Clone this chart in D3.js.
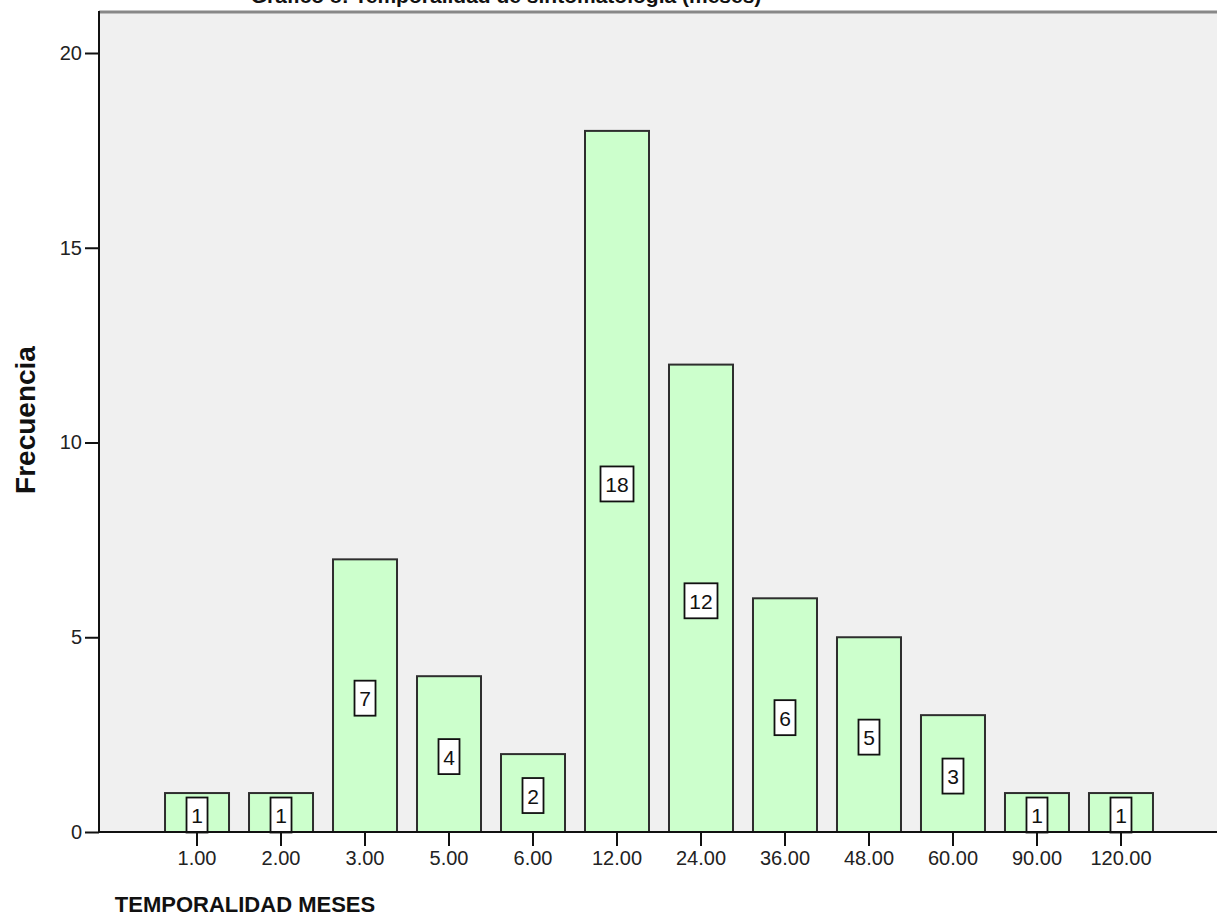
<!DOCTYPE html>
<html>
<head>
<meta charset="utf-8">
<script src="https://cdn.jsdelivr.net/npm/d3@7"></script>
<style>
  html, body { margin: 0; padding: 0; background: #ffffff; }
  svg { display: block; font-family: "Liberation Sans", Arial, sans-serif; }
</style>
</head>
<body>
<svg id="chart" width="1217" height="922"></svg>
<script>
// Frequency of symptom duration (months)
const categories = ["1.00", "2.00", "3.00", "5.00", "6.00", "12.00", "24.00", "36.00", "48.00", "60.00", "90.00", "120.00"];
const frequencies = [1, 1, 7, 4, 2, 18, 12, 6, 5, 3, 1, 1];
const yTicks = [0, 5, 10, 15, 20];

const chartTitle = "Gráfico 8: Temporalidad de sintomatología (meses)";
const xTitle = "TEMPORALIDAD MESES";
const yTitle = "Frecuencia";

const svg = d3.select("#chart");
const W = 1217, H = 922;
const plot = { left: 99, right: 1219, top: 12, bottom: 832 };

const x = d3.scaleBand()
  .domain(categories)
  .range([plot.left, plot.right])
  .paddingInner(20 / 84)
  .paddingOuter(0.786);

const y = d3.scaleLinear()
  .domain([0, 20])
  .range([plot.bottom, 53]);

// plot background
svg.append("rect")
  .attr("x", plot.left).attr("y", plot.top)
  .attr("width", plot.right - plot.left)
  .attr("height", plot.bottom - plot.top)
  .attr("fill", "#f0f0f0");

// top frame line
svg.append("line")
  .attr("x1", plot.left).attr("x2", W)
  .attr("y1", plot.top).attr("y2", plot.top)
  .attr("stroke", "#888888").attr("stroke-width", 3);

// bars
svg.append("g").selectAll("rect")
  .data(frequencies)
  .join("rect")
  .attr("x", (d, i) => x(categories[i]))
  .attr("y", d => y(d))
  .attr("width", x.bandwidth())
  .attr("height", d => y(0) - y(d))
  .attr("fill", "#ccffcc")
  .attr("stroke", "#2e2e2e")
  .attr("stroke-width", 2);

// value labels in boxes at mid-height of each bar
const lbl = svg.append("g").selectAll("g")
  .data(frequencies)
  .join("g")
  .attr("transform", (d, i) => `translate(${x(categories[i]) + x.bandwidth() / 2},${y(d / 2) + 3})`);

lbl.append("rect")
  .attr("x", d => -(String(d).length > 1 ? 16.5 : 10.5))
  .attr("y", -18)
  .attr("width", d => String(d).length > 1 ? 33 : 21)
  .attr("height", 35)
  .attr("fill", "#ffffff")
  .attr("stroke", "#111111")
  .attr("stroke-width", 1.8);

lbl.append("text")
  .attr("text-anchor", "middle")
  .attr("dy", "0.36em")
  .attr("font-size", 21)
  .attr("fill", "#111111")
  .text(d => d);

// axes
const yAxis = d3.axisLeft(y).tickValues(yTicks).tickSize(14).tickPadding(3).tickFormat(d3.format("d"));
const gy = svg.append("g").attr("transform", `translate(${plot.left},0)`).call(yAxis);
gy.select(".domain").remove();
gy.selectAll(".tick line").attr("stroke", "#111").attr("stroke-width", 2);
gy.selectAll(".tick text").attr("font-size", 20).attr("fill", "#222")
  .attr("font-family", "Liberation Sans, Arial, sans-serif");

const xAxis = d3.axisBottom(x).tickSize(14).tickPadding(5);
const gx = svg.append("g").attr("transform", `translate(0,${plot.bottom})`).call(xAxis);
gx.select(".domain").remove();
gx.selectAll(".tick line").attr("stroke", "#111").attr("stroke-width", 2);
gx.selectAll(".tick text").attr("font-size", 20).attr("fill", "#222")
  .attr("font-family", "Liberation Sans, Arial, sans-serif");

// axis lines
svg.append("line")
  .attr("x1", plot.left).attr("x2", plot.left)
  .attr("y1", plot.top - 1).attr("y2", plot.bottom)
  .attr("stroke", "#111").attr("stroke-width", 2);
svg.append("line")
  .attr("x1", plot.left).attr("x2", W)
  .attr("y1", plot.bottom).attr("y2", plot.bottom)
  .attr("stroke", "#111").attr("stroke-width", 2);

// titles
svg.append("text")
  .attr("x", 506).attr("y", 3)
  .attr("text-anchor", "middle")
  .attr("font-size", 21).attr("font-weight", "bold").attr("fill", "#111")
  .text(chartTitle);

svg.append("text")
  .attr("x", 245).attr("y", 912)
  .attr("text-anchor", "middle")
  .attr("font-size", 22).attr("font-weight", "bold").attr("fill", "#111")
  .text(xTitle);

svg.append("text")
  .attr("transform", "translate(35,420) rotate(-90)")
  .attr("text-anchor", "middle")
  .attr("font-size", 28).attr("font-weight", "bold").attr("fill", "#111")
  .text(yTitle);
</script>
</body>
</html>
